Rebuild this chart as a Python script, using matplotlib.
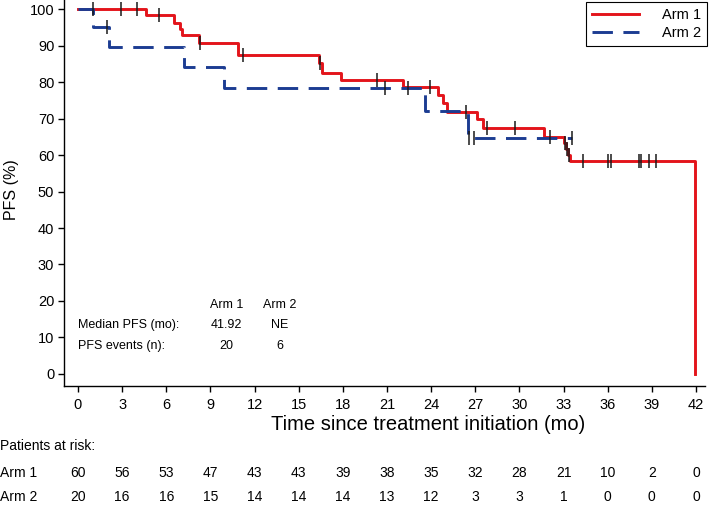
import numpy as np
import matplotlib
matplotlib.use("Agg")
import matplotlib.pyplot as plt

plt.rcParams['font.family'] = ['Liberation Sans', 'DejaVu Sans']

# Kaplan-Meier steps (time in months, PFS %)
arm1_times = [0, 4.6, 6.5, 6.9, 7.1, 8.2, 10.9, 16.4, 16.6, 17.9, 22.1, 24.5, 24.8, 25.1,
              27.1, 27.5, 31.7, 33.0, 33.15, 33.3, 33.45, 41.92, 41.92]
arm1_surv = [100, 98.3, 96.2, 94.6, 92.9, 90.6, 87.4, 85.3, 82.6, 80.7, 78.7, 76.4, 74.2, 71.9,
             69.8, 67.4, 64.9, 63.2, 61.6, 60.0, 58.4, 58.4, 0]
arm2_times = [0, 1.0, 2.1, 7.2, 9.9, 23.6, 26.5, 33.6]
arm2_surv = [100, 95.0, 89.5, 84.2, 78.3, 72.0, 64.8, 64.8]

# censored observations
arm1_cens = [1.0, 2.9, 4.0, 5.5, 8.3, 11.2, 16.45, 20.3, 23.9, 26.4, 27.8, 29.7, 32.1,
             33.1, 33.25, 33.4, 34.3, 36.0, 36.2, 38.1, 38.3, 38.8, 39.3]
arm2_cens = [2.0, 20.9, 22.4, 26.6, 26.9, 33.6]

# risk table
risk_times = list(range(0, 43, 3))
risk_arm1 = [60, 56, 53, 47, 43, 43, 39, 38, 35, 32, 28, 21, 10, 2, 0]
risk_arm2 = [20, 16, 16, 15, 14, 14, 14, 13, 12, 3, 3, 1, 0, 0, 0]

red = '#e3141b'
blue = '#1c3c92'


def surv_at(times, surv, t):
    i = np.searchsorted(times, t, side='right') - 1
    return surv[i]


fig = plt.figure(figsize=(7.09, 5.07), dpi=100)
ax = fig.add_axes([0.0903, 0.2387, 0.9037, 0.7613])

ax.step(arm1_times, arm1_surv, where='post', color=red, lw=2.1, label='Arm 1')
ax.step(arm2_times, arm2_surv, where='post', color=blue, lw=2.1,
        linestyle=(0, (7, 3.6)), label='Arm 2')

ax.plot(arm1_cens, [surv_at(arm1_times[:-1], arm1_surv[:-1], t) for t in arm1_cens],
        linestyle='none', marker='|', markersize=10, mew=1.1, color='#1a1a1a')
ax.plot(arm2_cens, [surv_at(arm2_times, arm2_surv, t) for t in arm2_cens],
        linestyle='none', marker='|', markersize=10, mew=1.1, color='#1a1a1a')

ax.set_xlim(-0.95, 42.6)
ax.set_ylim(-3.3, 102.5)
ax.set_xticks(risk_times)
ax.set_yticks(range(0, 101, 10))
ax.tick_params(direction='out', length=4, width=1, labelsize=10.5, pad=3)
ax.tick_params(axis='x', pad=5)
for s in ['top', 'right']:
    ax.spines[s].set_visible(False)
for s in ['left', 'bottom']:
    ax.spines[s].set_linewidth(1)

ax.set_xlabel('Time since treatment initiation (mo)', fontsize=14.5)
ax.xaxis.set_label_coords(0.568, -0.075)
ax.set_ylabel('PFS (%)', fontsize=11.5)
ax.yaxis.set_label_coords(-0.071, 0.508)

leg = ax.legend(loc='upper right', bbox_to_anchor=(707 / 709, 1 - 2 / 507),
                bbox_transform=fig.transFigure, fancybox=False, framealpha=1,
                edgecolor='black', fontsize=10.5, handlelength=3.2, handletextpad=1.6,
                borderpad=0.4, labelspacing=0.3, borderaxespad=0)
leg.get_frame().set_linewidth(0.8)

# summary text
fs = 9
ax.text(10.1, 18.9, 'Arm 1', ha='center', va='center', fontsize=fs)
ax.text(13.7, 18.9, 'Arm 2', ha='center', va='center', fontsize=fs)
ax.text(0, 13.4, 'Median PFS (mo):', ha='left', va='center', fontsize=fs)
ax.text(10.1, 13.4, '41.92', ha='center', va='center', fontsize=fs)
ax.text(13.7, 13.4, 'NE', ha='center', va='center', fontsize=fs)
ax.text(0, 7.7, 'PFS events (n):', ha='left', va='center', fontsize=fs)
ax.text(10.1, 7.7, '20', ha='center', va='center', fontsize=fs)
ax.text(13.7, 7.7, '6', ha='center', va='center', fontsize=fs)

# risk table
rs = 10
trans = ax.get_xaxis_transform()
fig.text(0.0, 1 - 446 / 507, 'Patients at risk:', ha='left', va='center', fontsize=rs)
fig.text(0.0, 1 - 473 / 507, 'Arm 1', ha='left', va='center', fontsize=rs)
fig.text(0.0, 1 - 497 / 507, 'Arm 2', ha='left', va='center', fontsize=rs)
for t, a, b in zip(risk_times, risk_arm1, risk_arm2):
    ax.text(t, (386 - 473) / 386, str(a), transform=trans, ha='center', va='center',
            fontsize=rs, clip_on=False)
    ax.text(t, (386 - 497) / 386, str(b), transform=trans, ha='center', va='center',
            fontsize=rs, clip_on=False)

fig.savefig('out.png', dpi=100)
